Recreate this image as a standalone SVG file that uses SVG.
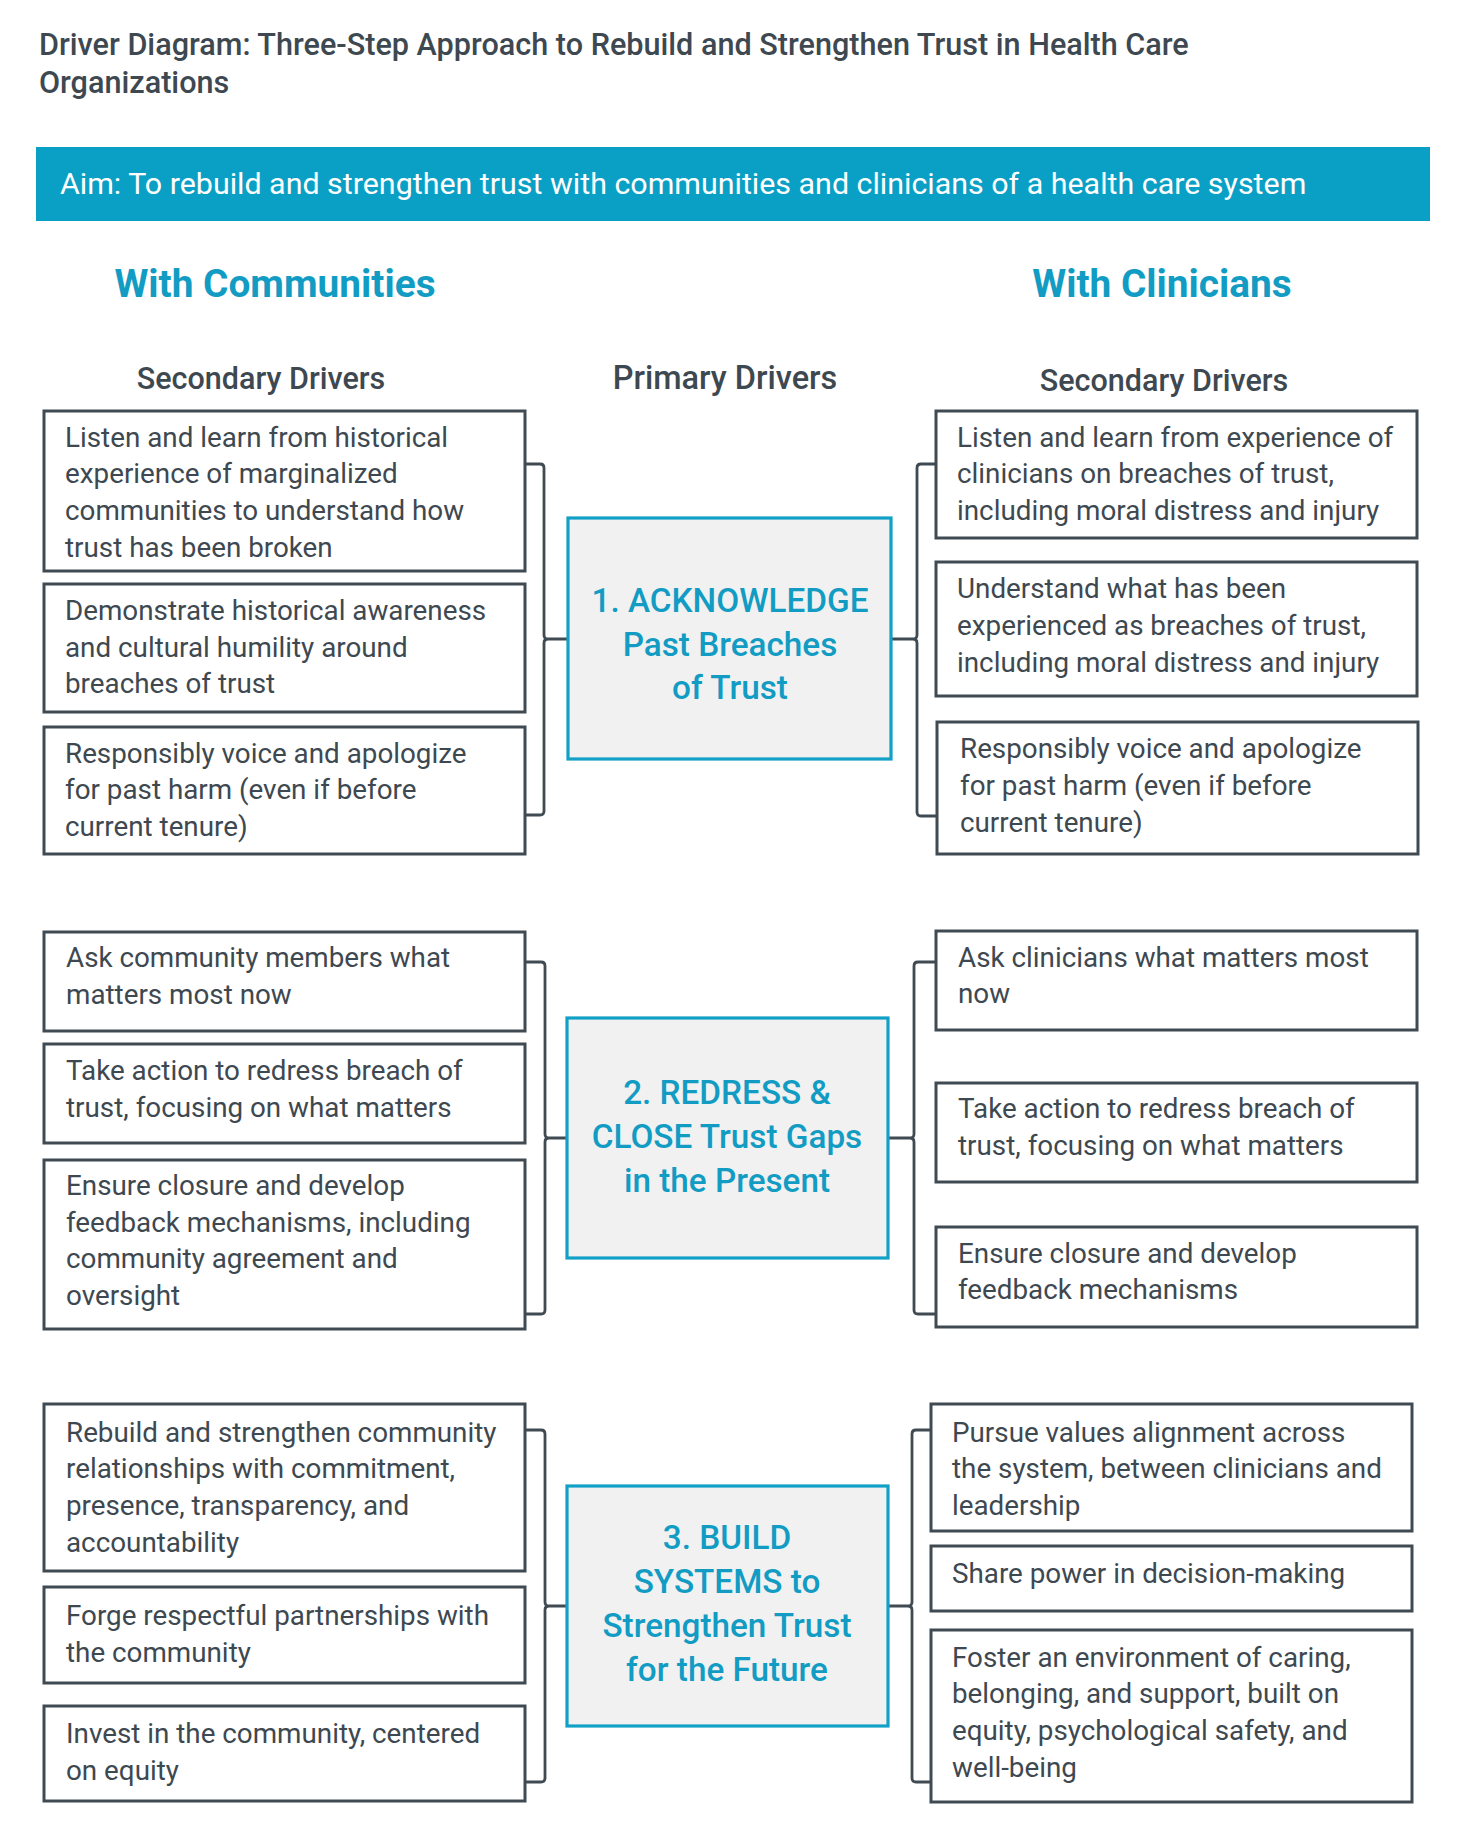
<svg xmlns="http://www.w3.org/2000/svg" width="1472" height="1834" viewBox="0 0 1472 1834">
<style>
text{font-family:Roboto,"Liberation Sans",sans-serif;fill:#3e4850}
.title{font-size:30.6px;font-weight:500}
.aim{font-size:30.4px;fill:#fff}
.side{font-size:38.8px;font-weight:700;fill:#129cc3;text-anchor:middle}
.hdr{font-size:30.5px;font-weight:500;text-anchor:middle}
.hdrp{font-size:32.5px}
.sec rect{fill:#fff;stroke:#3f4a52;stroke-width:3}
.sec text{font-size:27.8px}
.pri rect{fill:#f1f1f2;stroke:#12a0c6;stroke-width:3.2}
.pri text{font-size:33.3px;font-weight:500;fill:#129cc3;text-anchor:middle}
.brace{fill:none;stroke:#3f4a52;stroke-width:2.8;stroke-linejoin:round}
</style>
<rect width="1472" height="1834" fill="#fff"/>
<g id="title">
<text class="title" x="39" y="55">Driver Diagram: Three-Step Approach to Rebuild and Strengthen Trust in Health Care</text>
<text class="title" x="39" y="93">Organizations</text>
</g>
<g id="aim">
<rect x="36" y="147" width="1394" height="74" fill="#0aa0c6"/>
<text class="aim" x="60" y="194">Aim: To rebuild and strengthen trust with communities and clinicians of a health care system</text>
</g>
<g id="headers">
<text class="side" x="275" y="297">With Communities</text>
<text class="side" x="1162" y="297">With Clinicians</text>
<text class="hdr" x="261" y="389">Secondary Drivers</text>
<text class="hdr hdrp" x="725" y="389">Primary Drivers</text>
<text class="hdr" x="1164" y="391">Secondary Drivers</text>
</g>

<g id="connectors" class="brace">
<path d="M525 464 H540 Q544 464 544 468 V635 Q544 639 548 639 Q544 639 544 643 V811 Q544 815 540 815 H525 M548 639 H568"/>
<path d="M936 464 H921 Q917 464 917 468 V635 Q917 639 913 639 Q917 639 917 643 V812 Q917 816 921 816 H936 M913 639 H891"/>
<path d="M525 962 H541 Q545 962 545 966 V1134 Q545 1138 549 1138 Q545 1138 545 1142 V1310 Q545 1314 541 1314 H525 M549 1138 H567"/>
<path d="M936 962 H918 Q914 962 914 966 V1134 Q914 1138 910 1138 Q914 1138 914 1142 V1310 Q914 1314 918 1314 H936 M910 1138 H888"/>
<path d="M525 1430 H541 Q545 1430 545 1434 V1602 Q545 1606 549 1606 Q545 1606 545 1610 V1778 Q545 1782 541 1782 H525 M549 1606 H567"/>
<path d="M931 1430 H916 Q912 1430 912 1434 V1602 Q912 1606 908 1606 Q912 1606 912 1610 V1778 Q912 1782 916 1782 H931 M908 1606 H888"/>
</g>

<g id="p1" class="pri"><rect x="568" y="518" width="323" height="241"/>
<text x="730" y="612">1. ACKNOWLEDGE</text><text x="730" y="656">Past Breaches</text><text x="730" y="699">of Trust</text></g>
<g id="p2" class="pri"><rect x="567" y="1018" width="321" height="240"/>
<text x="727" y="1104">2. REDRESS &amp;</text><text x="727" y="1148">CLOSE Trust Gaps</text><text x="727" y="1192">in the Present</text></g>
<g id="p3" class="pri"><rect x="567" y="1486" width="321" height="240"/>
<text x="727" y="1549">3. BUILD</text><text x="727" y="1593">SYSTEMS to</text><text x="727" y="1637">Strengthen Trust</text><text x="727" y="1681">for the Future</text></g>

<g id="l1" class="sec"><rect x="44" y="411" width="481" height="160"/>
<text x="65" y="447">Listen and learn from historical</text><text x="65" y="483">experience of marginalized</text><text x="65" y="520">communities to understand how</text><text x="65" y="557">trust has been broken</text></g>
<g id="l2" class="sec"><rect x="44" y="584" width="481" height="128"/>
<text x="65" y="620">Demonstrate historical awareness</text><text x="65" y="657">and cultural humility around</text><text x="65" y="693">breaches of trust</text></g>
<g id="l3" class="sec"><rect x="44" y="727" width="481" height="127"/>
<text x="65" y="763">Responsibly voice and apologize</text><text x="65" y="799">for past harm (even if before</text><text x="65" y="836">current tenure)</text></g>

<g id="r1" class="sec"><rect x="936" y="411" width="481" height="127"/>
<text x="957" y="447">Listen and learn from experience of</text><text x="957" y="483">clinicians on breaches of trust,</text><text x="957" y="520">including moral distress and injury</text></g>
<g id="r2" class="sec"><rect x="936" y="562" width="481" height="134"/>
<text x="957" y="598">Understand what has been</text><text x="957" y="635">experienced as breaches of trust,</text><text x="957" y="672">including moral distress and injury</text></g>
<g id="r3" class="sec"><rect x="937" y="722" width="481" height="132"/>
<text x="960" y="758">Responsibly voice and apologize</text><text x="960" y="795">for past harm (even if before</text><text x="960" y="832">current tenure)</text></g>

<g id="l4" class="sec"><rect x="44" y="932" width="481" height="99"/>
<text x="66" y="967">Ask community members what</text><text x="66" y="1004">matters most now</text></g>
<g id="l5" class="sec"><rect x="44" y="1044" width="481" height="99"/>
<text x="66" y="1080">Take action to redress breach of</text><text x="66" y="1117">trust, focusing on what matters</text></g>
<g id="l6" class="sec"><rect x="44" y="1160" width="481" height="169"/>
<text x="66" y="1195">Ensure closure and develop</text><text x="66" y="1232">feedback mechanisms, including</text><text x="66" y="1268">community agreement and</text><text x="66" y="1305">oversight</text></g>

<g id="r4" class="sec"><rect x="936" y="931" width="481" height="99"/>
<text x="958" y="967">Ask clinicians what matters most</text><text x="958" y="1003">now</text></g>
<g id="r5" class="sec"><rect x="936" y="1083" width="481" height="99"/>
<text x="958" y="1118">Take action to redress breach of</text><text x="958" y="1155">trust, focusing on what matters</text></g>
<g id="r6" class="sec"><rect x="936" y="1227" width="481" height="100"/>
<text x="958" y="1263">Ensure closure and develop</text><text x="958" y="1299">feedback mechanisms</text></g>

<g id="l7" class="sec"><rect x="44" y="1404" width="481" height="167"/>
<text x="66" y="1442">Rebuild and strengthen community</text><text x="66" y="1478">relationships with commitment,</text><text x="66" y="1515">presence, transparency, and</text><text x="66" y="1552">accountability</text></g>
<g id="l8" class="sec"><rect x="44" y="1587" width="481" height="96"/>
<text x="66" y="1625">Forge respectful partnerships with</text><text x="66" y="1662">the community</text></g>
<g id="l9" class="sec"><rect x="44" y="1706" width="481" height="95"/>
<text x="66" y="1743">Invest in the community, centered</text><text x="66" y="1780">on equity</text></g>

<g id="r7" class="sec"><rect x="931" y="1404" width="481" height="127"/>
<text x="952" y="1442">Pursue values alignment across</text><text x="952" y="1478">the system, between clinicians and</text><text x="952" y="1515">leadership</text></g>
<g id="r8" class="sec"><rect x="931" y="1546" width="481" height="65"/>
<text x="952" y="1583">Share power in decision-making</text></g>
<g id="r9" class="sec"><rect x="931" y="1630" width="481" height="172"/>
<text x="952" y="1667">Foster an environment of caring,</text><text x="952" y="1703">belonging, and support, built on</text><text x="952" y="1740">equity, psychological safety, and</text><text x="952" y="1777">well-being</text></g>
</svg>
